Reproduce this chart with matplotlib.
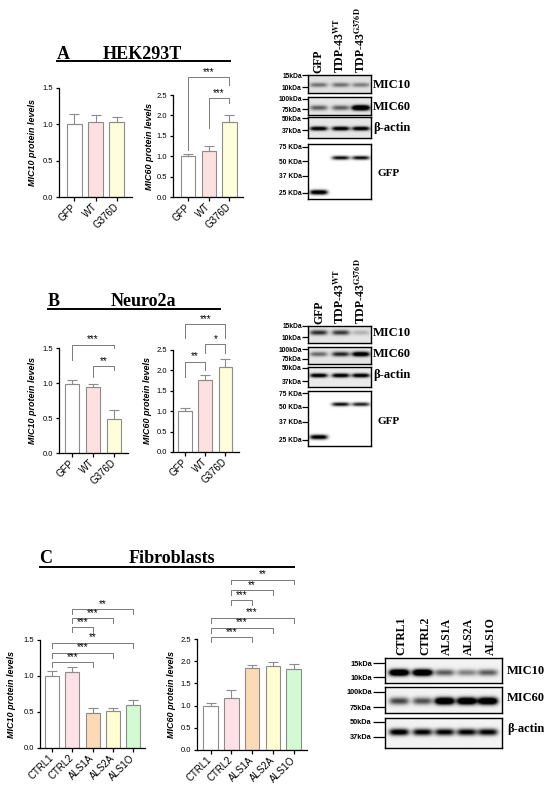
import numpy as np
import matplotlib
matplotlib.use('Agg')
import matplotlib.pyplot as plt

plt.rcParams['font.family'] = ['Liberation Sans', 'DejaVu Sans']
plt.rcParams['mathtext.fontset'] = 'stix'

W, H = 550, 792

# ---- datos de las barras (media, SEM) ----
grupos_ab = ['GFP', 'WT', 'G376D']
grupos_c = ['CTRL1', 'CTRL2', 'ALS1A', 'ALS2A', 'ALS1O']

a_mic10 = [1.00, 1.03, 1.03]
a_mic10_sem = [0.14, 0.10, 0.07]
a_mic60 = [1.00, 1.13, 1.83]
a_mic60_sem = [0.06, 0.12, 0.19]

b_mic10 = [0.99, 0.94, 0.49]
b_mic10_sem = [0.06, 0.05, 0.12]
b_mic60 = [1.00, 1.76, 2.08]
b_mic60_sem = [0.07, 0.13, 0.20]

c_mic10 = [1.00, 1.05, 0.48, 0.51, 0.60]
c_mic10_sem = [0.07, 0.07, 0.07, 0.05, 0.06]
c_mic60 = [1.00, 1.16, 1.85, 1.90, 1.83]
c_mic60_sem = [0.06, 0.20, 0.07, 0.08, 0.11]

# comparaciones: (grupo i, grupo j, altura, bajada pata i, bajada pata j, texto)
a_mic60_sig = [(0, 2, 2.93, 1.78, 0.19, '***'), (1, 2, 2.42, 0.73, 0.12, '***')]
b_mic10_sig = [(0, 2, 1.55, 0.22, 0.05, '***'), (1, 2, 1.24, 0.16, 0.05, '**')]
b_mic60_sig = [(0, 2, 3.13, 0.34, 0.34, '***'), (1, 2, 2.64, 0.22, 0.22, '*'),
               (0, 1, 2.21, 0.37, 0.21, '**')]
c_mic10_sig = [(0, 2, 1.19, 0.07, 0.07, '***'), (0, 3, 1.32, 0.07, 0.07, '***'),
               (0, 4, 1.46, 0.07, 0.07, '**'), (1, 2, 1.68, 0.07, 0.07, '***'),
               (1, 3, 1.80, 0.07, 0.07, '***'), (1, 4, 1.93, 0.07, 0.07, '**')]
c_mic60_sig = [(0, 2, 2.54, 0.11, 0.11, '***'), (0, 3, 2.75, 0.11, 0.11, '***'),
               (0, 4, 2.98, 0.11, 0.11, '***'), (1, 2, 3.37, 0.11, 0.11, '***'),
               (1, 3, 3.60, 0.11, 0.11, '**'), (1, 4, 3.84, 0.11, 0.11, '**')]

colores_ab = ['#FFFFFF', '#FDE1E1', '#FEFEDA']
colores_c = ['#FFFFFF', '#FDE1E6', '#FDDAB6', '#FEFED2', '#D2FBD2']

# ---- intensidad relativa de las bandas de western blot (a ojo) ----
a_wb_mic10 = [0.45, 0.45, 0.40]
a_wb_mic60 = [0.55, 0.55, 1.6]
a_wb_actina = [1.1, 1.1, 1.1]
a_wb_gfp25 = [1.3, 0.0, 0.0]
a_wb_gfp55 = [0.0, 1.0, 1.0]

b_wb_mic10 = [0.75, 0.70, 0.20]
b_wb_mic60 = [0.50, 0.80, 1.2]
b_wb_actina = [1.1, 1.1, 1.1]
b_wb_gfp25 = [1.2, 0.0, 0.0]
b_wb_gfp55 = [0.0, 1.0, 0.9]

c_wb_mic10 = [1.6, 1.6, 0.6, 0.45, 0.6]
c_wb_mic60 = [0.7, 0.65, 1.5, 1.5, 1.5]
c_wb_actina = [1.1, 1.0, 1.0, 1.0, 1.0]

carriles_ab = ['GFP', r'TDP-43$^{\mathbf{WT}}$', r'TDP-43$^{\mathbf{G376D}}$']

fig = plt.figure(figsize=(W / 100, H / 100), dpi=100)


def px_ax(x0, y0, x1, y1):
    return fig.add_axes([x0 / W, 1 - y1 / H, (x1 - x0) / W, (y1 - y0) / H])


def ftext(x, y, s, **kw):
    fig.text(x / W, 1 - y / H, s, **kw)


def fline(x0, x1, y, lw=1.4):
    fig.add_artist(plt.Line2D([x0 / W, x1 / W], [1 - y / H, 1 - y / H], color='black', lw=lw))


def bar_panel(rect, grupos, vals, sems, colores, ymax, ylabel, xlim, width, sig, lab_x):
    ax = px_ax(*rect)
    x = np.arange(len(grupos))
    ax.bar(x, vals, width=width, color=colores, edgecolor='#8c8c8c', linewidth=0.8, zorder=2)
    ax.errorbar(x, vals, yerr=[np.zeros(len(vals)), sems], fmt='none', ecolor='#8c8c8c',
                elinewidth=0.8, capsize=3.5, capthick=0.8, zorder=3)
    ax.set_xlim(*xlim)
    ax.set_ylim(0, ymax)
    yt = np.arange(0, ymax + 0.01, 0.5)
    ax.set_yticks(yt, [f'{v:.1f}' for v in yt])
    ax.set_xticks(x, grupos, rotation=45, ha='right', va='center', rotation_mode='anchor')
    ax.tick_params(axis='y', length=2.5, width=0.9, pad=1.5, labelsize=5.5)
    ax.tick_params(axis='x', length=3, width=0.9, pad=3, labelsize=7)
    for s in ['top', 'right']:
        ax.spines[s].set_visible(False)
    for s in ['left', 'bottom']:
        ax.spines[s].set_linewidth(0.9)
    ax.set_ylabel(ylabel, fontsize=6.5, fontweight='bold', fontstyle='italic')
    ax.yaxis.set_label_coords((lab_x - rect[0]) / (rect[2] - rect[0]), 0.5)
    for i, j, h, di, dj, txt in sig:
        ax.plot([i, i, j, j], [h - di, h, h, h - dj], color='#7a7a7a', lw=0.7, clip_on=False)
        ax.annotate(txt, ((i + j) / 2, h), xytext=(0, 0.3), textcoords='offset points',
                    ha='center', va='bottom', fontsize=7, annotation_clip=False)
    return ax


def blot_strip(rect, carriles_x, bandas, fondo, marcas, tick_len, kda_size, hw):
    ax = px_ax(*rect)
    yy, xx = np.mgrid[0:1:160j, 0:1:300j]
    img = np.full(xx.shape, fondo)
    for yc, sy, intens in bandas:
        for cx, v in zip(carriles_x, intens):
            img -= v * np.exp(-((xx - cx) / hw) ** 4) * np.exp(-0.5 * ((yy - yc) / sy) ** 2)
    ax.imshow(np.clip(img, 0, 1), cmap='gray', vmin=0, vmax=1, extent=(0, 1, 1, 0),
              aspect='auto', interpolation='bilinear')
    ax.set_xlim(0, 1)
    ax.set_ylim(1, 0)
    ax.set_xticks([])
    ax.set_yticks([m[1] for m in marcas], [m[0] for m in marcas])
    ax.tick_params(axis='y', length=tick_len, width=0.9, pad=0.5, labelsize=kda_size)
    for lab in ax.get_yticklabels():
        lab.set_fontweight('bold')
    for s in ax.spines.values():
        s.set_linewidth(1.0)
    return ax


serif = dict(family=['Liberation Serif', 'DejaVu Serif'], fontweight='bold')

# ================= Panel A =================
ftext(57, 59, 'A', fontsize=13, **serif)
ftext(142, 59, 'HEK293T', fontsize=13, ha='center', **serif)
fline(57, 230, 61)

bar_panel((59, 88, 132, 197), grupos_ab, a_mic10, a_mic10_sem, colores_ab, 1.5,
          'MIC10 protein levels', (-0.7, 2.7), 0.7, [], 37)
bar_panel((173, 95, 243, 197), grupos_ab, a_mic60, a_mic60_sem, colores_ab, 2.5,
          'MIC60 protein levels', (-0.72, 2.65), 0.68, a_mic60_sig, 154)

lx = [0.17, 0.52, 0.84]
blot_strip((308, 75, 371, 93), lx, [(0.55, 0.09, a_wb_mic10)], 0.88,
           [('15kDa', 0.0), ('10kDa', 0.67)], 4, 4.8, 0.14)
blot_strip((308, 97, 371, 115), lx, [(0.6, 0.1, a_wb_mic60)], 0.9,
           [('100kDa', 0.1), ('75kDa', 0.67)], 4, 4.8, 0.14)
blot_strip((308, 117, 371, 138), lx, [(0.55, 0.07, a_wb_actina)], 0.9,
           [('50kDa', 0.05), ('37kDa', 0.62)], 4, 4.8, 0.14)
blot_strip((308, 144, 371, 199), lx, [(0.25, 0.025, a_wb_gfp55), (0.88, 0.03, a_wb_gfp25)], 1.0,
           [('75 KDa', 0.05), ('50 KDa', 0.31), ('37 KDa', 0.58), ('25 KDa', 0.89)], 4, 4.8, 0.14)
for xl, lab in zip([318, 340, 359], carriles_ab):
    ftext(xl, 73, lab, fontsize=8.5, rotation=90, ha='center', va='bottom', **serif)
for yl, lab in zip([85, 107, 128], ['MIC10', 'MIC60', 'β-actin']):
    ftext(373, yl, lab, fontsize=9, va='center', **serif)
ftext(377, 174, 'GFP', fontsize=8, va='center', **serif)

# ================= Panel B =================
ftext(48, 306, 'B', fontsize=13, **serif)
ftext(143, 306, 'Neuro2a', fontsize=13, ha='center', **serif)
fline(48, 220, 309)

bar_panel((59, 348, 128, 453), grupos_ab, b_mic10, b_mic10_sem, colores_ab, 1.5,
          'MIC10 protein levels', (-0.62, 2.67), 0.67, b_mic10_sig, 37)
bar_panel((173, 350, 239, 452), grupos_ab, b_mic60, b_mic60_sem, colores_ab, 2.5,
          'MIC60 protein levels', (-0.59, 2.67), 0.67, b_mic60_sig, 152)

blot_strip((308, 326, 371, 343), lx, [(0.42, 0.1, b_wb_mic10)], 0.9,
           [('15kDa', 0.0), ('10kDa', 0.65)], 4, 4.8, 0.14)
blot_strip((308, 347, 371, 364), lx, [(0.42, 0.1, b_wb_mic60)], 0.9,
           [('100kDa', 0.12), ('75kDa', 0.7)], 4, 4.8, 0.14)
blot_strip((308, 367, 371, 387), lx, [(0.45, 0.07, b_wb_actina)], 0.92,
           [('50kDa', 0.05), ('37kDa', 0.7)], 4, 4.8, 0.14)
blot_strip((308, 391, 371, 446), lx, [(0.24, 0.025, b_wb_gfp55), (0.84, 0.03, b_wb_gfp25)], 1.0,
           [('75 KDa', 0.04), ('50 KDa', 0.29), ('37 KDa', 0.56), ('25 KDa', 0.89)], 4, 4.8, 0.14)
for xl, lab in zip([319, 340, 359], carriles_ab):
    ftext(xl, 324, lab, fontsize=8.5, rotation=90, ha='center', va='bottom', **serif)
for yl, lab in zip([333, 354, 375], ['MIC10', 'MIC60', 'β-actin']):
    ftext(373, yl, lab, fontsize=9, va='center', **serif)
ftext(377, 421, 'GFP', fontsize=8, va='center', **serif)

# ================= Panel C =================
ftext(39, 563, 'C', fontsize=13, **serif)
ftext(172, 563, 'Fibroblasts', fontsize=13, ha='center', **serif)
fline(40, 294, 567)

bar_panel((40, 640, 145, 748), grupos_c, c_mic10, c_mic10_sem, colores_c, 1.5,
          'MIC10 protein levels', (-0.59, 4.58), 0.68, c_mic10_sig, 16)
bar_panel((197, 639, 307, 750), grupos_c, c_mic60, c_mic60_sem, colores_c, 2.5,
          'MIC60 protein levels', (-0.65, 4.64), 0.7, c_mic60_sig, 176)

cx = [0.12, 0.32, 0.51, 0.70, 0.88]
blot_strip((385, 658, 502, 683), cx, [(0.6, 0.09, c_wb_mic10)], 0.95,
           [('15kDa', 0.2), ('10kDa', 0.76)], 9, 5.3, 0.085)
blot_strip((385, 687, 502, 713), cx, [(0.54, 0.1, c_wb_mic60)], 0.95,
           [('100kDa', 0.19), ('75kDa', 0.77)], 9, 5.3, 0.085)
blot_strip((385, 718, 502, 748), cx, [(0.47, 0.08, c_wb_actina)], 0.95,
           [('50kDa', 0.13), ('37kDa', 0.63)], 9, 5.3, 0.085)
for xl, lab in zip([401, 425, 447, 469, 491], grupos_c):
    ftext(xl, 655, lab, fontsize=8.5, rotation=90, ha='center', va='bottom', **serif)
for yl, lab in zip([671, 698, 729], ['MIC10', 'MIC60', 'β-actin']):
    ftext(507, yl, lab, fontsize=9, va='center', **serif)

fig.savefig('out.png', dpi=100)
